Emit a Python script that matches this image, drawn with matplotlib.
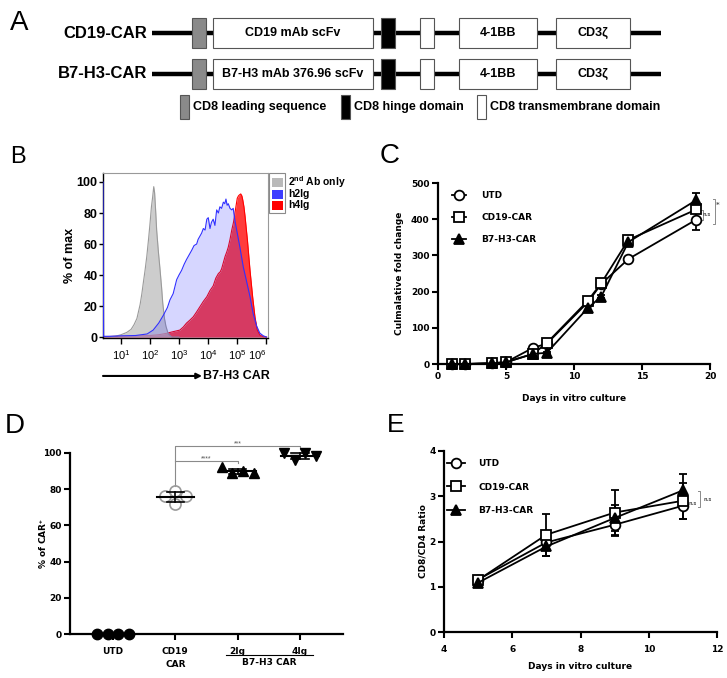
import numpy as np
import matplotlib
matplotlib.use('Agg')
from matplotlib import pyplot as plt
from matplotlib.patches import Rectangle
import matplotlib.transforms as mtransforms

plt.rcParams['font.family'] = ['Liberation Sans', 'DejaVu Sans']
plt.rcParams['mathtext.fontset'] = 'custom'
plt.rcParams['mathtext.rm'] = 'Liberation Sans'
plt.rcParams['mathtext.bf'] = 'Liberation Sans:bold'
plt.rcParams['mathtext.it'] = 'Liberation Sans:italic'
SP = 'DejaVu Sans'  # wide font for the letter-spaced GraphPad text

# ---------------- data ----------------
# A: CAR constructs
constructs = ['CD19-CAR', 'B7-H3-CAR']
scfv_names = ['CD19 mAb scFv', 'B7-H3 mAb 376.96 scFv']
domain_keys = ['leader', 'scfv', 'hinge', 'tm', '41bb', 'cd3z']
domain_text = ['', '', '', '', '4-1BB', 'CD3ζ']
domain_start = [192, 213, 381, 420, 459, 556]
domain_end = [206, 373, 395, 434, 537, 630]
key_labels = ['CD8 leading sequence', 'CD8 hinge domain', 'CD8 transmembrane domain']

# B: histograms (log10 intensity, % of max)
gray_log = [0.4, 0.8, 1.0, 1.2, 1.35, 1.45, 1.55, 1.66, 1.72, 1.77, 1.83, 1.89, 1.95, 2.0,
            2.05, 2.09, 2.13, 2.16, 2.2, 2.23, 2.29, 2.34, 2.4, 2.44, 2.5, 2.55, 2.63, 2.75, 3.0]
gray_pct = [0, 0.5, 1.5, 3, 5, 8, 12, 21, 28, 35, 43, 52, 63, 73,
            84, 90, 97, 93, 80, 69, 55, 45, 32, 22, 12, 7, 2, 0, 0]
blue_log = [0.38, 0.40, 0.6, 1.0, 1.5, 1.9, 2.11, 2.3, 2.46, 2.6, 2.69, 2.8, 2.92, 3.0, 3.09, 3.18,
            3.26, 3.35, 3.44, 3.52, 3.61, 3.66, 3.72, 3.78, 3.84, 3.9, 3.96, 4.01, 4.07, 4.12,
            4.18, 4.24, 4.30, 4.36, 4.41, 4.47, 4.53, 4.58, 4.62, 4.66, 4.70, 4.76, 4.82, 4.87,
            4.93, 4.99, 5.10, 5.22, 5.33, 5.45, 5.56, 5.68, 5.79, 5.91, 6.02]
blue_pct = [100, 0.5, 0.5, 0.8, 1, 2, 4.5, 9, 14, 19, 24, 28, 37, 40, 43, 47,
            50, 53, 56, 59, 60, 63, 65, 67, 70, 69, 76, 77, 70, 74,
            76, 72, 82, 80, 84, 83, 87, 86, 89, 85, 86, 83, 82, 83,
            75, 69, 58, 45, 36, 26, 15, 7, 2.5, 0.8, 0]
red_log = [0.4, 1.0, 1.5, 2.0, 2.3, 2.57, 2.8, 3.03, 3.15, 3.26, 3.38, 3.49, 3.6, 3.72, 3.84, 3.96,
           4.07, 4.18, 4.27, 4.36, 4.42, 4.47, 4.53, 4.59, 4.65, 4.70, 4.76, 4.82, 4.88, 4.93,
           4.98, 5.01, 5.05, 5.08, 5.13, 5.17, 5.20, 5.24, 5.28, 5.32, 5.36, 5.45, 5.54, 5.62,
           5.70, 5.79, 5.91, 6.02]
red_pct = [0.3, 0.5, 0.8, 1, 1.5, 2.4, 3.5, 4.5, 6.5, 9, 11, 13, 16, 19.5, 23, 26,
           30, 33, 38, 41, 42, 44, 48, 52, 55, 58, 63, 69, 74, 80,
           86, 89.5, 91, 91.6, 92.3, 91, 88.4, 84, 77.6, 70, 62.6, 43, 26, 13,
           4.5, 1.3, 0.2, 0]
hist_labels = [r'2$^{\mathbf{nd}}$ Ab only', 'h2Ig', 'h4Ig']

# C: cumulative fold change
series_names = ['UTD', 'CD19-CAR', 'B7-H3-CAR']
days_c = [1, 2, 4, 5, 7, 8, 11, 12, 14, 19]
utd_c = [0, 0, 2, 5, 45, 56, 170, 221, 290, 399]
cd19_c = [0, 0, 2, 5, 28, 58, 174, 223, 343, 427]
b7h3_c = [0, 0, 2, 5, 28, 31, 154, 186, 337, 453]
utd_c_err = [0, 0, 0, 0, 3, 3, 5, 5, 5, 28]
cd19_c_err = [0, 0, 0, 0, 3, 3, 5, 5, 5, 8]
b7h3_c_err = [0, 0, 0, 0, 3, 3, 5, 5, 5, 18]

# D: % CAR+
groups_d = ['UTD', 'CD19\nCAR', '2Ig', '4Ig']
utd_d = [0, 0, 0, 0]
cd19_d = [79, 76, 76, 72]
h2ig_d = [90, 88.8, 88.8, 92]
h4ig_d = [99.8, 96.2, 98.3, 99.8]

# E: CD8/CD4 ratio
days_e = [5, 7, 9, 11]
utd_e = [1.16, 1.98, 2.37, 2.79]
cd19_e = [1.15, 2.15, 2.64, 2.90]
b7h3_e = [1.09, 1.89, 2.52, 3.13]
utd_e_err = [0.05, 0.15, 0.24, 0.30]
cd19_e_err = [0.05, 0.46, 0.49, 0.40]
b7h3_e_err = [0.05, 0.21, 0.29, 0.37]

# ---------------- figure ----------------
W, H = 727, 678
fig = plt.figure(figsize=(W / 100, H / 100), dpi=100)
base = fig.add_axes([0, 0, 1, 1])
base.set_xlim(0, W)
base.set_ylim(H, 0)
base.axis('off')


def box(l, t, r, b):
    return [l / W, 1 - b / H, (r - l) / W, (b - t) / H]


def spaced(ax):
    for t in ax.get_xticklabels() + ax.get_yticklabels():
        t.set_fontfamily(SP)
        t.set_fontweight('bold')


# panel letters
for lab, x, y, fs in zip('ABCDE', [10, 10, 380, 5, 387], [30, 163, 163, 433, 432],
                         [20, 17, 20, 20, 19]):
    base.text(x, y, lab, fontsize=fs, va='baseline', ha='left')

# ---- A
fills = {'leader': '#8a8a8a', 'hinge': 'black'}
for i, name in enumerate(constructs):
    y = [33, 74][i]
    base.text(147, y, name, ha='right', va='center', fontsize=12, fontweight='bold')
    base.plot([152, 661], [y, y], color='black', lw=3.2, solid_capstyle='butt', zorder=1)
    for k, key in enumerate(domain_keys):
        x0, x1 = domain_start[k], domain_end[k]
        base.add_patch(Rectangle((x0, y - 15), x1 - x0, 30, facecolor=fills.get(key, 'white'),
                                 edgecolor='#555555', lw=0.8, zorder=2))
        txt = scfv_names[i] if key == 'scfv' else domain_text[k]
        if txt:
            base.text((x0 + x1) / 2, y, txt, ha='center', va='center', fontsize=9,
                      fontweight='bold', zorder=3)

for key, lab, kx in zip(['leader', 'hinge', 'tm'], key_labels, [180, 341, 477]):
    base.add_patch(Rectangle((kx, 95), 9, 24, facecolor=fills.get(key, 'white'),
                             edgecolor='#555555', lw=0.8))
    base.text(kx + 13, 107, lab, ha='left', va='center', fontsize=9, fontweight='bold')

# ---- B
axb = fig.add_axes(box(103, 173, 268, 338))
axb.set_xscale('log')
rx = 10 ** np.array(red_log)
gx = 10 ** np.array(gray_log)
bx = 10 ** np.array(blue_log)
axb.fill_between(rx, red_pct, color='#ff1a1a', alpha=0.85, lw=0, zorder=1)
axb.plot(rx, red_pct, color='#ff0000', lw=0.8, zorder=1.5)
axb.fill_between(gx, gray_pct, color='#bdbdbd', alpha=0.75, lw=0, zorder=2)
axb.plot(gx, gray_pct, color='#9a9a9a', lw=0.8, zorder=2.5)
axb.fill_between(bx, blue_pct, color='#3333ff', alpha=0.2, lw=0, zorder=3)
axb.plot(bx, blue_pct, color='#3030ff', lw=0.8, zorder=3.5)
axb.set_xlim(10 ** 0.38, 10 ** 6.07)
axb.set_ylim(-0.6, 105.8)
axb.set_yticks([0, 20, 40, 60, 80, 100])
axb.set_xticks([10.0 ** k for k in range(1, 7)])
axb.set_xticklabels([r'$10^{%d}$' % k for k in range(1, 7)])
axb.get_xticklabels()[-1].set_ha('right')
for s in ['top', 'right']:
    axb.spines[s].set_color('#999999')
    axb.spines[s].set_linewidth(0.8)
for s in ['left', 'bottom']:
    axb.spines[s].set_linewidth(1.0)
axb.tick_params(axis='y', direction='out', length=3, width=1, pad=1, labelsize=9)
axb.tick_params(axis='x', which='major', direction='out', length=4, width=1, pad=3, labelsize=8)
axb.tick_params(axis='x', which='minor', direction='out', length=2, width=0.7)
for t in axb.get_yticklabels():
    t.set_fontweight('bold')
axb.text(-0.2, 0.5, '% of max', transform=axb.transAxes, rotation=90, ha='center',
         va='center', fontsize=9, fontweight='bold')
axb.annotate('', xy=(0.6, -0.23), xytext=(0.0, -0.23), xycoords='axes fraction',
             arrowprops=dict(arrowstyle='-|>', lw=1.5, color='black', mutation_scale=8,
                             shrinkA=0, shrinkB=0))
axb.text(0.606, -0.23, 'B7-H3 CAR', transform=axb.transAxes, ha='left', va='center',
         fontsize=9, fontweight='bold')

base.add_patch(Rectangle((269, 173), 16, 40, fill=False, edgecolor='#8a8a8a', lw=0.8))
for i, (lab, col) in enumerate(zip(hist_labels, ['#b9b9b9', '#3c3cff', '#ff0000'])):
    yy = 178 + 11.5 * i
    base.add_patch(Rectangle((272, yy), 11, 9, facecolor=col, edgecolor='none'))
    base.text(288, yy + 4.5, lab, ha='left', va='center', fontsize=7.5, fontweight='bold')

styles = [dict(marker='o', mfc='white', ms=7), dict(marker='s', mfc='white', ms=6.5),
          dict(marker='^', mfc='black', ms=6.5)]


def growth_axes(ax, xs, ys, errs):
    handles = []
    for y, e, st in zip(ys, errs, styles):
        eb = ax.errorbar(xs, y, yerr=e, color='black', mec='black', mew=1.3, lw=1.3,
                         elinewidth=1.3, capsize=3, capthick=1.3, clip_on=False, **st)
        for a in eb.lines[1] + eb.lines[2]:
            a.set_clip_on(False)
        handles.append(eb[0])
    for s in ['top', 'right']:
        ax.spines[s].set_visible(False)
    for s in ['left', 'bottom']:
        ax.spines[s].set_linewidth(1.6)
    ax.tick_params(direction='out', length=4, width=1.5, labelsize=6.5, pad=2)
    return handles


def bracket(ax, x, y0, y1, foot, label, tx, ty, fs):
    ax.plot([x - foot, x, x, x - foot], [y0, y0, y1, y1], color='#8a8a8a', lw=0.7,
            clip_on=False)
    ax.text(tx, ty, label, ha='center', va='center', fontsize=fs, color='#555555',
            family=SP, fontweight='bold')


# ---- C
axc = fig.add_axes(box(438, 183, 710, 364))
hc = growth_axes(axc, days_c, [utd_c, cd19_c, b7h3_c], [utd_c_err, cd19_c_err, b7h3_c_err])
axc.set_xlim(0, 20)
axc.set_ylim(0, 500)
axc.set_xticks([0, 5, 10, 15, 20])
axc.set_yticks([0, 100, 200, 300, 400, 500])
spaced(axc)
axc.legend(hc, series_names, loc='upper left', bbox_to_anchor=(0.022, 1.0), frameon=False,
           handlelength=1.5, handletextpad=1.75, labelspacing=1.45,
           prop=dict(family=SP, weight='bold', size=6.5))
axc.text(-0.14, 0.5, 'Culmalative fold change', transform=axc.transAxes, rotation=90,
         ha='center', va='center', fontsize=6.5, family=SP, fontweight='bold')
axc.text(0.5, -0.188, 'Days in vitro culture', transform=axc.transAxes, ha='center',
         va='center', fontsize=6.5, family=SP, fontweight='bold')
bracket(axc, 19.46, 426, 399, 0.12, 'n.s', 19.75, 412, 3.5)
bracket(axc, 20.37, 457, 388, 0.12, '*', 20.6, 440, 5)


# ---- D
def swarm(vals, step=0.17, px_x=62.3, px_y=1.81, diam=10.5):
    placed, offs = [], []
    cands = [0] + [s * j * step for j in range(1, 6) for s in (-1, 1)]
    for v in vals:
        for c in cands:
            if all(np.hypot((c - o) * px_x, (v - w) * px_y) >= diam for o, w in placed):
                break
        placed.append((c, v))
        offs.append(c)
    offs = np.array(offs)
    return offs - offs.mean()


axd = fig.add_axes(box(70, 453, 343, 634))
d_vals = [utd_d, cd19_d, h2ig_d, h4ig_d]
d_marks = [dict(marker='o', color='black', ms=7.5),
           dict(marker='o', mfc='none', mec='#9a9a9a', mew=1.2, ms=8),
           dict(marker='^', color='black', ms=7),
           dict(marker='v', color='black', ms=7)]
for i, (vals, mk) in enumerate(zip(d_vals, d_marks)):
    xs = i + swarm(vals)
    axd.plot(xs, vals, ls='none', clip_on=False, zorder=3, **mk)
    m, sd = np.mean(vals), np.std(vals, ddof=1)
    axd.plot([i - 0.3, i + 0.3], [m, m], color='black', lw=1.5, zorder=4, clip_on=False)
    axd.plot([i, i], [m - sd, m + sd], color='black', lw=1.2, zorder=4, clip_on=False)
    for yv in (m - sd, m + sd):
        axd.plot([i - 0.14, i + 0.14], [yv, yv], color='black', lw=1.2, zorder=4, clip_on=False)
axd.set_xlim(-0.69, 3.69)
axd.set_ylim(0, 100)
axd.set_xticks(range(4))
axd.set_xticklabels(groups_d, linespacing=1.6)
axd.set_yticks([0, 20, 40, 60, 80, 100])
for s in ['top', 'right']:
    axd.spines[s].set_visible(False)
for s in ['left', 'bottom']:
    axd.spines[s].set_linewidth(1.6)
axd.tick_params(direction='out', length=4, width=1.5, labelsize=6.5, pad=2)
axd.tick_params(axis='x', pad=5)
spaced(axd)
trd = mtransforms.blended_transform_factory(axd.transData, axd.transAxes)
axd.plot([1.82, 3.21], [-0.116, -0.116], color='black', lw=0.8, transform=trd, clip_on=False)
axd.text(2.5, -0.16, 'B7-H3 CAR', transform=trd, ha='center', va='center', fontsize=6.5,
         family=SP, fontweight='bold')
axd.text(-0.099, 0.5, r'% of CAR$^{\mathbf{+}}$', transform=axd.transAxes, rotation=90,
         ha='center', va='center', fontsize=6.5, family=SP, fontweight='bold')
sig = dict(color='#8a8a8a', lw=0.8, clip_on=False)
axd.plot([1, 1, 3, 3], [82, 103.7, 103.7, 102], **sig)
axd.plot([1, 2, 2], [95.8, 95.8, 94.2], **sig)
axd.text(2, 104.8, '***', ha='center', va='center', fontsize=5, color='#555555')
axd.text(1.5, 96.8, '****', ha='center', va='center', fontsize=5, color='#555555')

# ---- E
axe = fig.add_axes(box(444, 451, 717, 632))
he = growth_axes(axe, days_e, [utd_e, cd19_e, b7h3_e], [utd_e_err, cd19_e_err, b7h3_e_err])
axe.set_xlim(4, 12)
axe.set_ylim(0, 4)
axe.set_xticks([4, 6, 8, 10, 12])
axe.set_yticks([0, 1, 2, 3, 4])
axe.tick_params(axis='x', pad=5)
spaced(axe)
axe.legend(he, series_names, loc='upper left', bbox_to_anchor=(-0.018, 1.0), frameon=False,
           handlelength=2.0, handletextpad=1.45, labelspacing=1.6,
           prop=dict(family=SP, weight='bold', size=6.5))
axe.text(-0.077, 0.5, 'CD8/CD4 Ratio', transform=axe.transAxes, rotation=90,
         ha='center', va='center', fontsize=6.5, family=SP, fontweight='bold')
axe.text(0.5, -0.193, 'Days in vitro culture', transform=axe.transAxes, ha='center',
         va='center', fontsize=6.5, family=SP, fontweight='bold')
bracket(axe, 11.16, 2.90, 2.77, 0.05, 'n.s', 11.3, 2.83, 3.5)
bracket(axe, 11.5, 3.12, 2.77, 0.05, 'n.s', 11.72, 2.93, 3.5)

fig.savefig('out.png', dpi=100)
